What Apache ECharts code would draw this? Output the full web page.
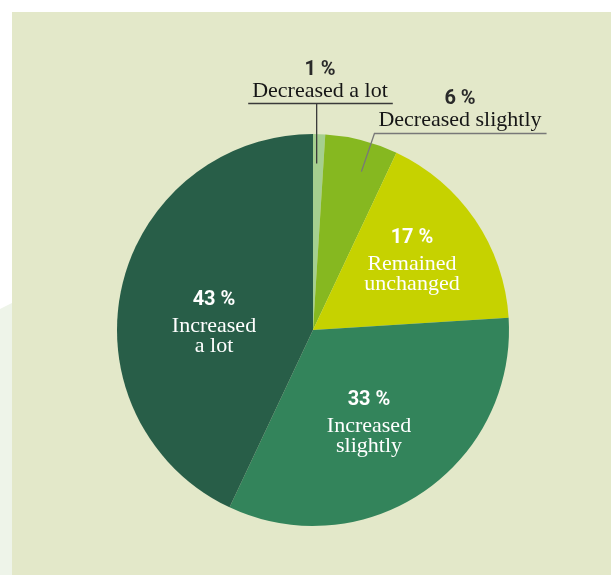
<!DOCTYPE html>
<html><head><meta charset="utf-8">
<script src="https://cdn.jsdelivr.net/npm/echarts@6/dist/echarts.min.js"></script>
<style>html,body{margin:0;padding:0;background:#fff}#c{width:611px;height:575px}</style>
</head><body><div id="c"></div>
<script>
// ---- data ----
const categories = ['Decreased a lot', 'Decreased slightly', 'Remained unchanged', 'Increased slightly', 'Increased a lot'];
const values = [1, 6, 17, 33, 43];
const colors = ['#a5cf8f', '#86b820', '#c6d200', '#33845b', '#285e48'];

// ---- layout ----
const CX = 313, CY = 330, R = 196;
const total = values.reduce((a, b) => a + b, 0);
// angle (clockwise from 12 o'clock) at a fraction through slice i
function sliceAngle(i, frac) {
  let s = 0;
  for (let k = 0; k < i; k++) s += values[k];
  return (s + values[i] * frac) / total * 2 * Math.PI;
}
const outsideCfg = {
  0: { x: 320, bottom: 102, uy: 103.5, line: '#3a3a3a', frac: 0.35, rf: 0.85 },
  1: { x: 460, bottom: 131, uy: 133.5, line: '#787878', frac: 0.62, rf: 0.845 }
};
const insidePos = { 2: [412, 258], 3: [369, 420], 4: [214, 320] };

const serif = '"Liberation Serif", "DejaVu Serif", serif';
const sans = 'Roboto, "Open Sans", sans-serif';

const outsideLabel = {
  show: true, position: 'outside',
  rich: {
    p: { fontFamily: sans, fontWeight: 'bold', fontSize: 20, lineHeight: 21, color: '#2a2a2a', align: 'center' },
    t: { fontFamily: serif, fontSize: 22, lineHeight: 22, color: '#161616', align: 'center' }
  }
};
const insideLabel = {
  show: true, position: 'inside',
  rich: {
    p: { fontFamily: sans, fontWeight: 'bold', fontSize: 20, lineHeight: 32, color: '#ffffff', align: 'center' },
    t: { fontFamily: serif, fontSize: 22, lineHeight: 20, color: '#ffffff', align: 'center' }
  }
};

function fmt(p) {
  const pct = '{p|' + p.value + ' %}';
  if (outsideCfg[p.dataIndex]) return pct + '\n{t|' + p.name + '}';
  return pct + '\n' + p.name.replace(' ', '\n').split('\n').map(s => '{t|' + s + '}').join('\n');
}

// filled sectors + inside labels
const fillData = categories.map((name, i) => ({
  name: name,
  value: values[i],
  itemStyle: { color: colors[i] },
  label: outsideCfg[i] ? { show: false } : insideLabel,
  labelLine: { show: false }
}));
// transparent overlay carrying the callout labels and leader lines (drawn above the sectors)
const calloutData = categories.map((name, i) => ({
  name: name,
  value: values[i],
  itemStyle: { color: 'rgba(0,0,0,0)' },
  label: outsideCfg[i] ? outsideLabel : { show: false },
  labelLine: outsideCfg[i]
    ? { show: true, lineStyle: { color: outsideCfg[i].line, width: 1.3 } }
    : { show: false }
}));

const common = {
  type: 'pie',
  center: [CX, CY],
  radius: R,
  startAngle: 90,
  clockwise: true,
  avoidLabelOverlap: false,
  minShowLabelAngle: 0,
  emphasis: { disabled: true },
  silent: true,
  label: { formatter: fmt }
};

const chart = echarts.init(document.getElementById('c'), null, { renderer: 'canvas' });
chart.setOption({
  animation: false,
  backgroundColor: '#ffffff',
  graphic: [
    { type: 'rect', z: 0, silent: true, shape: { x: 12, y: 12, width: 599, height: 563 }, style: { fill: '#e3e8c9' } },
    { type: 'polygon', z: 0, silent: true, shape: { points: [[0, 309], [12, 303], [12, 575], [0, 575]] }, style: { fill: '#eef4e9' } }
  ],
  series: [
    Object.assign({}, common, {
      z: 2,
      labelLayout: function (params) {
        const p = insidePos[params.dataIndex];
        if (!p) return {};
        return { x: p[0], y: p[1], align: 'center', verticalAlign: 'middle' };
      },
      data: fillData
    }),
    Object.assign({}, common, {
      z: 3,
      labelLayout: function (params) {
        const i = params.dataIndex;
        const o = outsideCfg[i];
        if (!o) return {};
        const w = params.labelRect.width;
        const a = sliceAngle(i, o.frac), r = o.rf * R;
        const sx = CX + r * Math.sin(a), sy = CY - r * Math.cos(a);
        const left = o.x - w / 2 - 4, right = o.x + w / 2 + 5;
        const jx = Math.min(Math.max(sx, left), right);
        return {
          x: o.x, y: o.bottom, align: 'center', verticalAlign: 'bottom',
          labelLinePoints: [[sx, sy], [jx, o.uy], [left, o.uy], [right, o.uy]]
        };
      },
      data: calloutData
    })
  ]
});
</script>
</body></html>
